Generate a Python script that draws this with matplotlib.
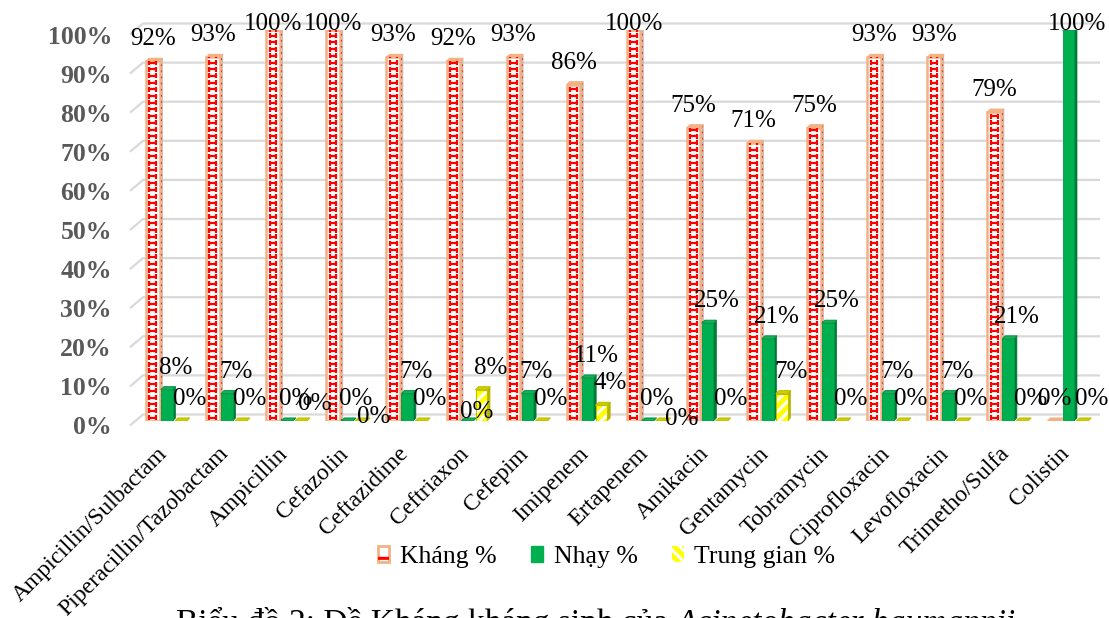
import matplotlib
matplotlib.use("Agg")
import matplotlib.pyplot as plt
from matplotlib.patches import Polygon, Patch
from matplotlib.collections import LineCollection, PatchCollection
from matplotlib.legend_handler import HandlerTuple
from matplotlib.transforms import ScaledTranslation

# ---- data -------------------------------------------------------------
antibiotics = ["Ampicillin/Sulbactam", "Piperacillin/Tazobactam", "Ampicillin",
               "Cefazolin", "Ceftazidime", "Ceftriaxon", "Cefepim", "Imipenem",
               "Ertapenem", "Amikacin", "Gentamycin", "Tobramycin",
               "Ciprofloxacin", "Levofloxacin", "Trimetho/Sulfa", "Colistin"]
khang = [92, 93, 100, 100, 93, 92, 93, 86, 100, 75, 71, 75, 93, 93, 79, 0]
nhay = [8, 7, 0, 0, 7, 0, 7, 11, 0, 25, 21, 25, 7, 7, 21, 100]
trung_gian = [0, 0, 0, 0, 0, 8, 0, 4, 0, 0, 7, 0, 0, 0, 0, 0]
series_names = ["Kháng %", "Nhạy %", "Trung gian %"]
y_ticks = list(range(0, 101, 10))
caption_plain = "Biểu đồ 2: Đề Kháng kháng sinh của "
caption_italic = "Acinetobacter baumannii"

# ---- layout / style ---------------------------------------------------
W, H, DPI = 1109, 618, 100
SERIF = ["Liberation Serif", "DejaVu Serif"]
plt.rcParams["font.family"] = SERIF

fig = plt.figure(figsize=(W / DPI, H / DPI), dpi=DPI)
# plot area in pixels: x 130..1100, y (from top) 30..421
ax_l, ax_r, ax_t, ax_b = 130, 1100, 30, 421
ax = fig.add_axes([ax_l / W, (H - ax_b) / H, (ax_r - ax_l) / W, (ax_b - ax_t) / H])
px_x = 60.1                      # pixels per category
first_center = 167.5             # pixel x of the first category centre
x0 = (ax_l - first_center) / px_x
x1 = (ax_r - first_center) / px_x
ax.set_xlim(x0, x1)
ax.set_ylim(0, 100)
px_y = (ax_b - ax_t) / 100.0     # pixels per percent

def dxu(p):   # pixels -> x data units
    return p / px_x

def dyu(p):   # pixels -> y data units
    return p / px_y

for s in ax.spines.values():
    s.set_visible(False)

GRID = "#D9D9D9"
# back-wall gridlines with a short slanted side-wall segment at the left
for v in y_ticks:
    back = v + dyu(6.5)
    ax.plot([x0, x0 + dxu(13), x1], [v - dyu(4.5), back, back],
            color=GRID, lw=1.6, clip_on=False, zorder=0, solid_capstyle="butt")

bar_ws = [dxu(13.5), dxu(11.5), dxu(11.5)]
bar_left = [dxu(-21.5), dxu(-6.5), dxu(7.5)]
depth_x, depth_y = dxu(3), dyu(3)

styles = [
    dict(front="white", edge="#F4B183", side="#CDB6A8", top="#F4B183"),
    dict(front="#00B050", edge="#009A46", side="#007A35", top="#1DAE58"),
    dict(front="#FFFF00", edge="#BFBF00", side="#B5B500", top="#D0D000"),
]

def draw_series(values, k):
    st = styles[k]
    bw = bar_ws[k]
    xs = [i + bar_left[k] for i in range(len(values))]
    sides, tops = [], []
    for x, v in zip(xs, values):
        sides.append(Polygon([(x + bw, 0), (x + bw + depth_x, depth_y),
                              (x + bw + depth_x, v + depth_y), (x + bw, v)]))
        tops.append(Polygon([(x, v), (x + depth_x, v + depth_y),
                             (x + bw + depth_x, v + depth_y), (x + bw, v)]))
    z = 2 + k
    ax.add_collection(PatchCollection(sides, facecolor=st["side"], edgecolor=st["side"],
                                      lw=0.5, zorder=z))
    ax.add_collection(PatchCollection(tops, facecolor=st["top"], edgecolor=st["edge"],
                                      lw=0.8, zorder=z))
    if k == 0:
        ax.bar(xs, values, width=bw, align="edge", color=st["front"],
               edgecolor=st["edge"], lw=1.8, zorder=z)
        # brick pattern drawn inside each front face
        row = dyu(6.7)
        segs = []
        for x, v in zip(xs, values):
            yc = row / 2
            while yc - 0.42 * row < v:
                if yc < v:
                    segs.append([(x + 0.22 * bw, yc), (x + 0.78 * bw, yc)])
                ylo, yhi = yc - 0.38 * row, min(yc + 0.38 * row, v)
                if yhi > ylo:
                    segs.append([(x + 0.25 * bw, ylo), (x + 0.25 * bw, yhi)])
                    segs.append([(x + 0.75 * bw, ylo), (x + 0.75 * bw, yhi)])
                yc += row
            # red marks on the side face
            if v > 0:
                ax.plot([x + bw + depth_x / 2] * 2, [depth_y / 2, v + depth_y / 2],
                        color="#E03030", lw=0.8, ls=(0, (1.5, 4)), zorder=z + 0.1)
        ax.add_collection(LineCollection(segs, colors="#FF0000", lw=1.6, zorder=z + 0.2))
    elif k == 1:
        ax.bar(xs, values, width=bw, align="edge", color=st["front"],
               edgecolor=st["edge"], lw=0.6, zorder=z)
    else:
        plt.rcParams["hatch.linewidth"] = 2.2
        ax.bar(xs, values, width=bw, align="edge", color=st["front"],
               edgecolor="white", hatch="///", lw=0, zorder=z)
        ax.bar(xs, values, width=bw, align="edge", fill=False,
               edgecolor=st["edge"], lw=0.8, zorder=z + 0.1)
    return [x + bw / 2 for x in xs]

all_values = [khang, nhay, trung_gian]
centers = [draw_series(vals, k) for k, vals in enumerate(all_values)]

# value labels; a few zero labels sit lower to avoid overlapping neighbours
label_nudge = {(2, 2): (5, -5), (3, 2): (4, -18), (5, 1): (0, -13), (8, 2): (11, -20)}
top_limit = dyu(ax_b - 23.5)
for k, vals in enumerate(all_values):
    for i, v in enumerate(vals):
        cx = centers[k][i] + (dxu(9) if k > 0 else 0)
        cy = min(v + dyu(22), top_limit)
        ndx, ndy = label_nudge.get((i, k), (0, 0))
        ax.text(cx + dxu(ndx), cy + dyu(ndy), f"{v}%", ha="center", va="center",
                fontsize=18, color="black", zorder=10, clip_on=False)

# axis tick labels
ax.set_yticks(y_ticks)
ax.set_yticklabels([f"{v}%" for v in y_ticks], fontsize=18.5, fontweight="bold",
                   color="#595959")
ax.tick_params(axis="y", length=0, pad=13)
for lab in ax.get_yticklabels():
    lab.set_transform(lab.get_transform() + ScaledTranslation(0, -0.045, fig.dpi_scale_trans))

ax.set_xticks([i - 0.17 for i in range(len(antibiotics))])
ax.set_xticklabels(antibiotics, rotation=45, ha="right", va="top",
                   rotation_mode="anchor", fontsize=17)
ax.tick_params(axis="x", length=0, pad=16)

# legend
h_khang = (Patch(facecolor="white", edgecolor="#F4B183", lw=2.0),
           Patch(facecolor="none", edgecolor="#FF0000", hatch="-", lw=0))
h_nhay = Patch(facecolor="#00B050", edgecolor="#00B050")
h_tg = Patch(facecolor="#FFFF00", edgecolor="white", hatch="\\\\\\", lw=0)
fig.legend([h_khang, h_nhay, h_tg], series_names, loc="center",
           bbox_to_anchor=(606.5 / W, (H - 557) / H), ncol=3, frameon=False,
           fontsize=18.5, handlelength=0.45, handleheight=0.55,
           handletextpad=0.42, columnspacing=1.35,
           handler_map={tuple: HandlerTuple(ndivide=1, pad=0)})

# caption below the chart (only its upper part falls inside the image)
renderer = fig.canvas.get_renderer()
cap_y = -14 / H
t1 = fig.text(176 / W, cap_y, caption_plain, fontsize=24, va="baseline", ha="left")
bb = t1.get_window_extent(renderer=renderer)
fig.text(bb.x1 / W, cap_y, caption_italic, fontsize=24, va="baseline", ha="left",
         style="italic")

fig.savefig("out.png", dpi=DPI)
